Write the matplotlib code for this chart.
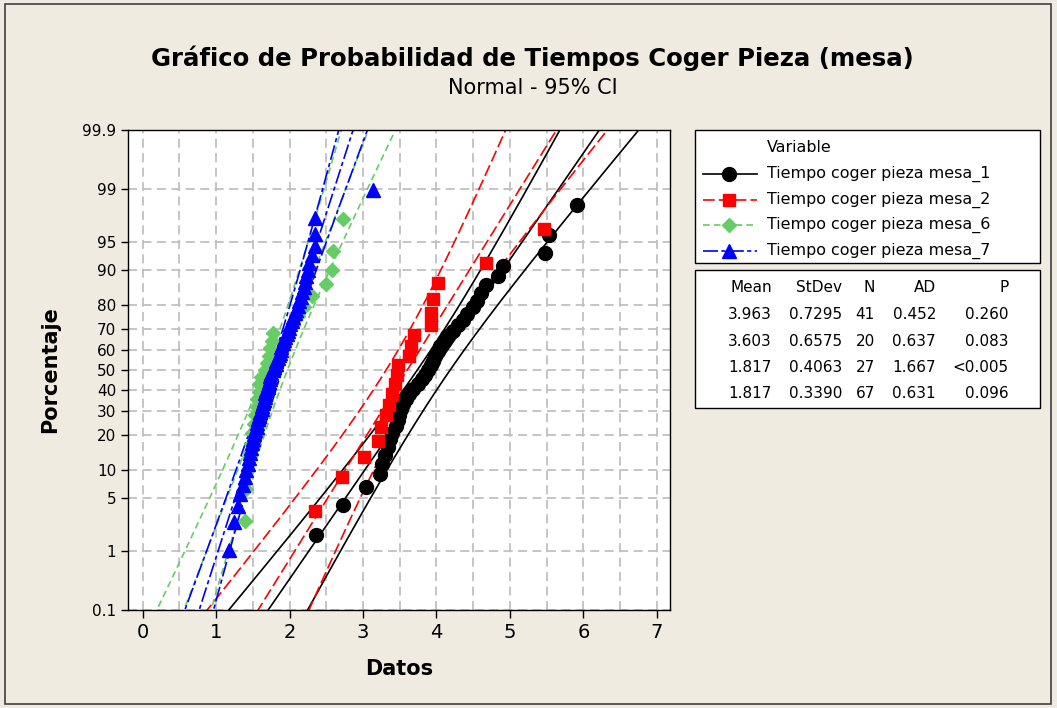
import numpy as np
import matplotlib
matplotlib.use("Agg")
import matplotlib.pyplot as plt
from matplotlib.lines import Line2D
from matplotlib.patches import Rectangle
from statistics import NormalDist

# data

series_names = [
    "Tiempo coger pieza mesa_1",
    "Tiempo coger pieza mesa_2",
    "Tiempo coger pieza mesa_6",
    "Tiempo coger pieza mesa_7",
]

mesa_1 = [2.36, 2.73, 3.04, 3.23, 3.26, 3.30, 3.34, 3.37, 3.40, 3.45,
          3.47, 3.49, 3.52, 3.55, 3.58, 3.62, 3.68, 3.75, 3.80, 3.84,
          3.88, 3.92, 3.95, 3.98, 4.02, 4.05, 4.10, 4.15, 4.22, 4.30,
          4.36, 4.42, 4.50, 4.55, 4.60, 4.68, 4.84, 4.90, 5.48, 5.53,
          5.92]

mesa_2 = [2.34, 2.72, 3.02, 3.21, 3.25, 3.31, 3.36, 3.40, 3.43, 3.46,
          3.48, 3.62, 3.66, 3.69, 3.92, 3.93, 3.95, 4.02, 4.68, 5.47]

mesa_6 = [1.39, 1.40, 1.43, 1.45, 1.47, 1.49, 1.51, 1.53, 1.55, 1.56,
          1.58, 1.59, 1.61, 1.66, 1.69, 1.72, 1.74, 1.76, 1.78, 2.05,
          2.12, 2.20, 2.31, 2.50, 2.58, 2.59, 2.73]

mesa_7 = [1.18, 1.24, 1.30, 1.32, 1.37, 1.39, 1.41, 1.43, 1.45, 1.46,
          1.48, 1.49, 1.50, 1.52, 1.53, 1.55, 1.56, 1.57, 1.58, 1.60,
          1.62, 1.63, 1.64, 1.65, 1.66, 1.67, 1.68, 1.70, 1.71, 1.72,
          1.73, 1.74, 1.75, 1.77, 1.79, 1.81, 1.82, 1.84, 1.85, 1.87,
          1.88, 1.89, 1.91, 1.93, 1.94, 1.96, 1.98, 1.99, 2.01, 2.03,
          2.05, 2.07, 2.09, 2.11, 2.13, 2.15, 2.17, 2.19, 2.21, 2.23,
          2.25, 2.27, 2.31, 2.34, 2.34, 2.34, 3.13]

means = [3.963, 3.603, 1.817, 1.817]
stdevs = [0.7295, 0.6575, 0.4063, 0.3390]
counts = [41, 20, 27, 67]
ad_vals = ["0.452", "0.637", "1.667", "0.631"]
p_vals = ["0.260", "0.083", "<0.005", "0.096"]

y_ticks = [0.1, 1, 5, 10, 20, 30, 40, 50, 60, 70, 80, 90, 95, 99, 99.9]
x_ticks = [0, 1, 2, 3, 4, 5, 6, 7]

# styles

colors = ["#000000", "#FF0000", "#66CC66", "#0000FF"]
markers = ["o", "s", "D", "^"]
msizes = [10, 9, 7.5, 9.5]
dashes = ["-", (0, (7, 2.5)), (0, (4, 2.5)), (0, (9, 2, 2.5, 2))]
bg = "#EFEBE1"

W, H = 1057, 708


def fx(x):
    return x / W


def fy(y):
    return 1 - y / H


_nd = NormalDist()
_ppf = np.vectorize(_nd.inv_cdf, otypes=[float])
_cdf = np.vectorize(_nd.cdf, otypes=[float])


def forward(p):
    p = np.clip(np.asarray(p, dtype=float) / 100.0, 1e-9, 1 - 1e-9)
    return _ppf(p)


def inverse(z):
    return _cdf(np.asarray(z, dtype=float)) * 100.0


plt.rcParams["font.family"] = ["DejaVu Sans"]

fig = plt.figure(figsize=(W / 100, H / 100), dpi=100, facecolor=bg)

ax = fig.add_axes([fx(128), fy(610), fx(670) - fx(128), fy(130) - fy(610)])
ax.set_facecolor("white")
ax.set_yscale("function", functions=(forward, inverse))

zgrid = np.linspace(-3.3, 3.3, 300)
pgrid = inverse(zgrid)

all_data = [mesa_1, mesa_2, mesa_6, mesa_7]

for k in range(4):
    data = np.sort(np.array(all_data[k]))
    n = len(data)
    pp = (np.arange(1, n + 1) - 0.3) / (n + 0.4) * 100

    fit = means[k] + stdevs[k] * zgrid
    half = 1.96 * stdevs[k] / np.sqrt(counts[k]) * np.sqrt(1 + zgrid ** 2 / 2)

    for xs in [fit, fit - half, fit + half]:
        ax.plot(xs, pgrid, color=colors[k], lw=1.2,
                linestyle=dashes[k], zorder=2 + k * 0.1)

    ax.plot(data, pp, linestyle="none", marker=markers[k],
            markersize=msizes[k], color=colors[k],
            markeredgecolor=colors[k], zorder=3 + k * 0.1)

ax.set_xlim(-0.2, 7.18)
ax.set_ylim(0.1, 99.9)

ax.set_yticks(y_ticks)
ax.set_yticklabels([("%g" % v) for v in y_ticks], fontsize=11)
ax.set_xticks(x_ticks)
ax.set_xticklabels([str(v) for v in x_ticks], fontsize=14)
ax.set_xticks(np.arange(0.5, 7.0, 1.0), minor=True)
ax.yaxis.set_minor_locator(matplotlib.ticker.NullLocator())

ax.tick_params(axis="x", which="major", direction="out", length=6, width=1)
ax.tick_params(axis="x", which="minor", length=0)
ax.tick_params(axis="y", direction="out", length=5, width=1)

ax.grid(True, which="both", axis="x", color="#C0C0C0",
        linestyle=(0, (5, 3)), lw=1.3, zorder=0)
ax.grid(True, which="major", axis="y", color="#C0C0C0",
        linestyle=(0, (5, 3)), lw=1.3, zorder=0)
ax.set_axisbelow(True)

for sp in ax.spines.values():
    sp.set_color("black")
    sp.set_linewidth(1.0)

ax.set_xlabel("Datos", fontsize=15, fontweight="bold", labelpad=12)
ax.set_ylabel("Porcentaje", fontsize=15, fontweight="bold", labelpad=16)

# titles
fig.text(fx(532), fy(58), "Gráfico de Probabilidad de Tiempos Coger Pieza (mesa)",
         ha="center", va="center", fontsize=17.6, fontweight="bold")
fig.text(fx(533), fy(88), "Normal - 95% CI", ha="center", va="center", fontsize=15)

# outer frame
fig.patches.append(Rectangle((fx(5), fy(704)), fx(1051) - fx(5), fy(4) - fy(704),
                             transform=fig.transFigure, fill=False,
                             edgecolor="#404040", lw=1.2))

# legend box
fig.patches.append(Rectangle((fx(695), fy(263)), fx(1040) - fx(695), fy(130) - fy(263),
                             transform=fig.transFigure, facecolor="white",
                             edgecolor="black", lw=1.0))
fig.text(fx(767), fy(148), "Variable", ha="left", va="center", fontsize=11.4)

leg_rows = [174, 200, 225, 251]
for k in range(4):
    yy = fy(leg_rows[k])
    fig.lines.append(Line2D([fx(703), fx(757)], [yy, yy], transform=fig.transFigure,
                            color=colors[k], lw=1.2, linestyle=dashes[k]))
    fig.lines.append(Line2D([fx(729)], [yy], transform=fig.transFigure,
                            marker=markers[k], markersize=msizes[k],
                            color=colors[k], linestyle="none"))
    fig.text(fx(767), yy, series_names[k], ha="left", va="center", fontsize=11.4)

# statistics box
fig.patches.append(Rectangle((fx(695), fy(408)), fx(1040) - fx(695), fy(270) - fy(408),
                             transform=fig.transFigure, facecolor="white",
                             edgecolor="black", lw=1.0))

col_right = [772, 842, 875, 936, 1009]
headers = ["Mean", "StDev", "N", "AD", "P"]
for c in range(5):
    fig.text(fx(col_right[c]), fy(288), headers[c], ha="right", va="center", fontsize=11)

stat_rows = [315, 341, 368, 393]
for k in range(4):
    row = ["%.3f" % means[k], "%.4f" % stdevs[k], str(counts[k]), ad_vals[k], p_vals[k]]
    for c in range(5):
        fig.text(fx(col_right[c]), fy(stat_rows[k]), row[c], ha="right",
                 va="center", fontsize=11)

fig.savefig("out.png", dpi=100, facecolor=bg)
